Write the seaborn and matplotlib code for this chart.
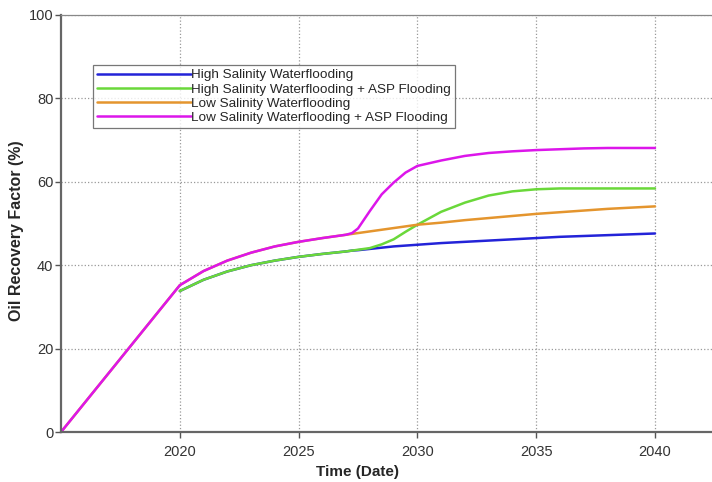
import numpy as np
import pandas as pd
import seaborn as sns
import matplotlib.pyplot as plt

# Data (high salinity cases only start in 2020)
years = [2015, 2020, 2021, 2022, 2023, 2024, 2025, 2026, 2027, 2027.25, 2027.5, 2028, 2028.5,
         2029, 2029.5, 2030, 2031, 2032, 2033, 2034, 2035, 2036, 2037, 2038, 2039, 2040]
high_sal = [np.nan, 33.8, 36.5, 38.5, 40.0, 41.1, 42.0, 42.7, 43.3, 43.5, 43.6, 43.9, 44.2,
            44.5, 44.7, 44.9, 45.3, 45.6, 45.9, 46.2, 46.5, 46.8, 47.0, 47.2, 47.4, 47.6]
high_sal_asp = [np.nan, 33.8, 36.5, 38.5, 40.0, 41.1, 42.0, 42.7, 43.3, 43.5, 43.7, 44.1, 45.0,
                46.2, 48.0, 49.7, 52.8, 55.0, 56.7, 57.7, 58.2, 58.4, 58.4, 58.4, 58.4, 58.4]
low_sal = [0, 35.2, 38.6, 41.1, 43.0, 44.5, 45.6, 46.5, 47.3, 47.5, 47.7, 48.1, 48.5,
           48.9, 49.3, 49.7, 50.2, 50.8, 51.3, 51.8, 52.3, 52.7, 53.1, 53.5, 53.8, 54.1]
low_sal_asp = [0, 35.2, 38.6, 41.1, 43.0, 44.5, 45.6, 46.5, 47.3, 47.7, 48.8, 53.0, 57.0,
               59.8, 62.2, 63.8, 65.1, 66.2, 66.9, 67.3, 67.6, 67.8, 68.0, 68.1, 68.1, 68.1]

names = ['High Salinity Waterflooding',
         'High Salinity Waterflooding + ASP Flooding',
         'Low Salinity Waterflooding',
         'Low Salinity Waterflooding + ASP Flooding']
colors = ['#2323d8', '#6ad83a', '#e4952e', '#dc16ea']

data = pd.DataFrame({
    'year': years * 4,
    'rf': high_sal + high_sal_asp + low_sal + low_sal_asp,
    'case': [n for n in names for _ in years],
})
data = data.dropna()

sns.set_style("white")
plt.rcParams['font.family'] = ['Liberation Sans', 'DejaVu Sans']

fig = plt.figure(figsize=(7.12, 4.82), dpi=100)
ax = fig.add_axes([0.0857, 0.1037, 0.9143, 0.8653])

sns.lineplot(data=data, x='year', y='rf', hue='case', hue_order=names,
             palette=colors, linewidth=1.8, ax=ax, sort=False)

ax.set_xlim(2015, 2042.4)
ax.set_ylim(0, 100)
ax.set_xticks([2020, 2025, 2030, 2035, 2040])
ax.set_yticks([0, 20, 40, 60, 80, 100])
ax.grid(True, linestyle=':', color='#999999', linewidth=0.9)
ax.tick_params(axis='both', labelsize=10.5, labelcolor='#333333', color='#555555',
               direction='out', length=4, width=1, bottom=True, left=True)
ax.tick_params(axis='y', pad=1.5)
ax.tick_params(axis='x', pad=5)

for side in ['left', 'bottom']:
    ax.spines[side].set_color('#666666')
    ax.spines[side].set_linewidth(1.6)
ax.spines['top'].set_color('#888888')
ax.spines['top'].set_linewidth(0.9)
ax.spines['right'].set_visible(False)

ax.set_xlabel('Time (Date)', fontsize=11, fontweight='bold')
ax.set_ylabel('Oil Recovery Factor (%)', fontsize=11.5, fontweight='bold')
ax.xaxis.set_label_coords(0.4547, -0.079)
ax.yaxis.set_label_coords(-0.057, 0.482)

leg = ax.legend(loc='upper left', bbox_to_anchor=(0.049, 0.88), fontsize=9.7,
                handlelength=7.0, handletextpad=0.0, labelspacing=0.12,
                borderpad=0.3, frameon=True, fancybox=False, borderaxespad=0)
leg.get_frame().set_edgecolor('#555555')
leg.get_frame().set_linewidth(0.9)

fig.savefig('out.png', dpi=100)
